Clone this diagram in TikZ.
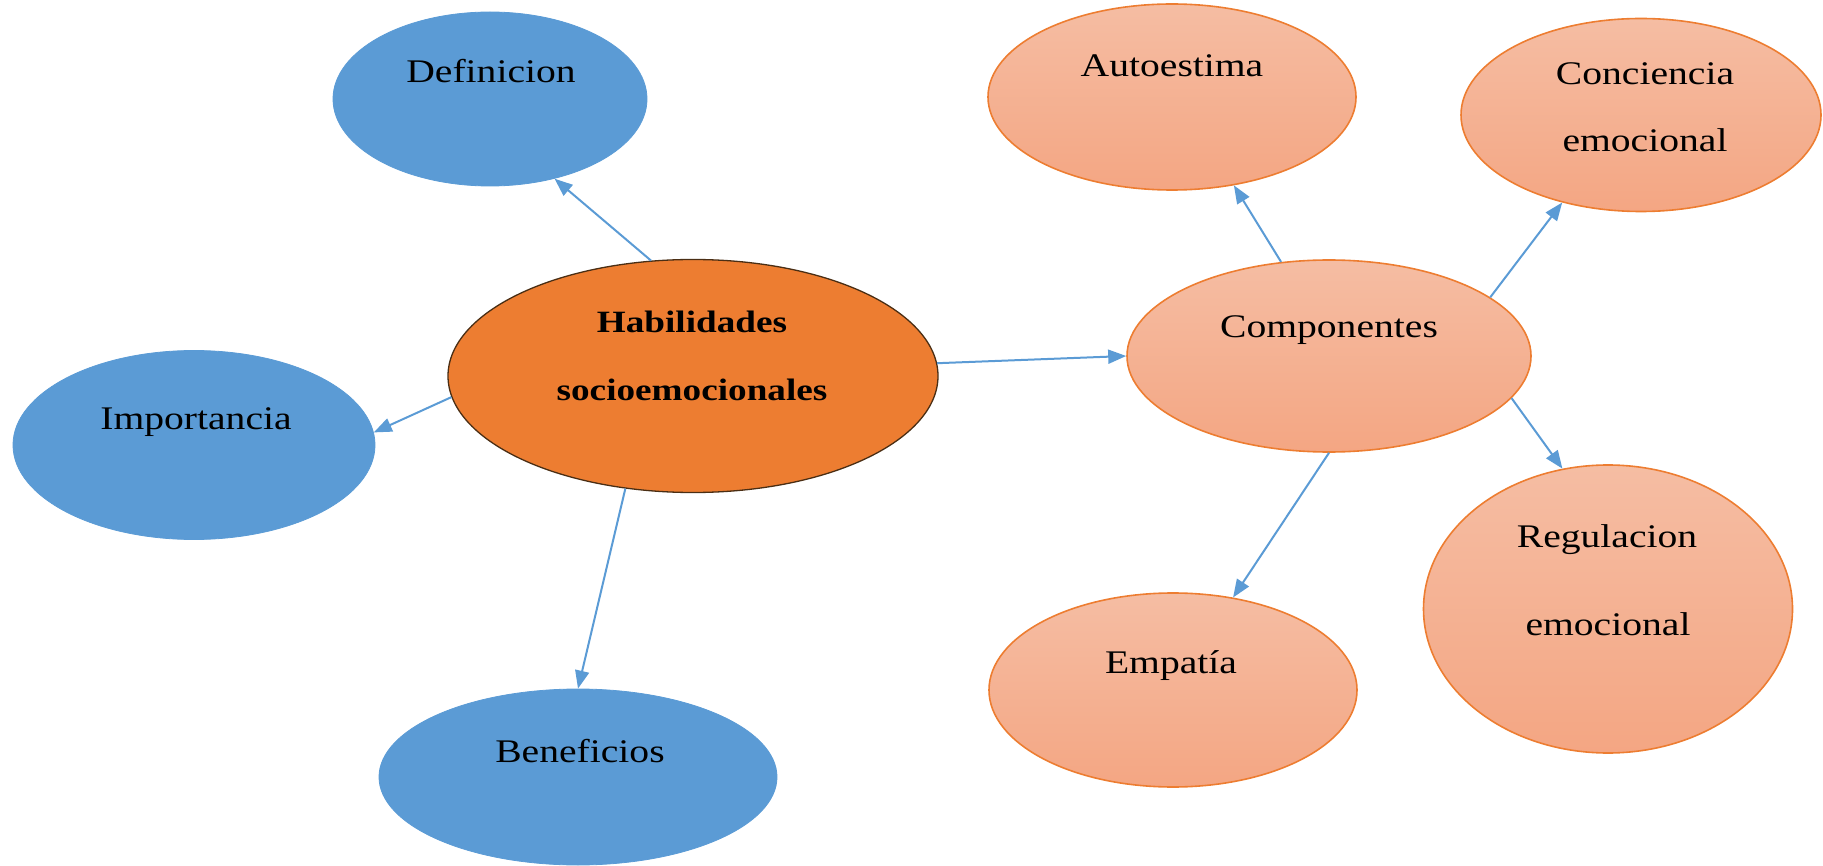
\documentclass[tikz,border=0pt]{standalone}
\usepackage{fontspec}
\setmainfont{Liberation Serif}[FakeStretch=1.2]
\usetikzlibrary{shapes.geometric,arrows.meta}
\definecolor{bblue}{HTML}{5B9BD5}
\definecolor{borange}{HTML}{ED7D31}
\definecolor{stop}{HTML}{F5BDA3}
\definecolor{sbot}{HTML}{F4A683}
\definecolor{hedge}{HTML}{4A2E14}
\definecolor{lblue}{HTML}{5B9BD5}
\tikzset{
  blueell/.style={ellipse, inner sep=0pt, fill=bblue, draw=bblue, line width=0.8pt},
  salmonell/.style={ellipse, inner sep=0pt, top color=stop, bottom color=sbot, draw=borange, line width=1.6pt},
  mainell/.style={ellipse, inner sep=0pt, fill=borange, draw=hedge, line width=1.3pt},
  lbl/.style={anchor=base, inner sep=0pt, font=\fontsize{33}{40}\selectfont, text=black},
  blbl/.style={anchor=base, inner sep=0pt, font=\fontsize{31}{40}\selectfont\bfseries, text=black},
  conn/.style={draw=lblue, line width=2pt, -{Triangle[length=18pt,width=14pt]}}
}
\begin{document}
\begin{tikzpicture}[x=1pt,y=-1pt]
\useasboundingbox (0,0) rectangle (1823,866);
% ellipses
\node[mainell, minimum width=490pt, minimum height=233pt] (hab) at (693,376) {};
\node[blueell, minimum width=314pt, minimum height=174pt] (def) at (490,99) {};
\node[blueell, minimum width=362pt, minimum height=189pt] (imp) at (194,445) {};
\node[blueell, minimum width=398pt, minimum height=176pt] (ben) at (578,777) {};
\node[salmonell, minimum width=404pt, minimum height=192pt] (comp) at (1329,356) {};
\node[salmonell, minimum width=368pt, minimum height=186pt] (auto) at (1172,97) {};
\node[salmonell, minimum width=360pt, minimum height=193pt] (conc) at (1641,115) {};
\node[salmonell, minimum width=369pt, minimum height=288pt] (reg) at (1608,609) {};
\node[salmonell, minimum width=368pt, minimum height=194pt] (emp) at (1173,690) {};
% labels
\node[blbl] (habA) at (692,333) {Habilidades};
\node[blbl] (habB) at (692,401) {socioemocionales};
\node[lbl] (defT) at (491,83) {Definicion};
\node[lbl] (impT) at (196,429) {Importancia};
\node[lbl] (benT) at (580,762) {Beneficios};
\node[lbl] (compT) at (1329,338) {Componentes};
\node[lbl] (autoT) at (1172,77) {Autoestima};
\node[lbl] (concA) at (1645,85) {Conciencia};
\node[lbl] (concB) at (1645,152) {emocional};
\node[lbl] (regA) at (1607,547) {Regulacion};
\node[lbl] (regB) at (1608,635) {emocional};
\node[lbl] (empT) at (1171,673) {Empatía};
% connectors
\draw[conn] (hab.110) -- (def.309);
\draw[conn] (hab.185) -- (imp.4);
\draw[conn] (hab.239) -- (ben.north);
\draw[conn] (hab.3) -- (comp.west);
\draw[conn] (comp.117) -- (auto.305);
\draw[conn] (comp.20) -- (conc.228);
\draw[conn] (comp.347) -- (reg.108);
\draw[conn] (comp.south) -- (emp.57);
\end{tikzpicture}
\end{document}
